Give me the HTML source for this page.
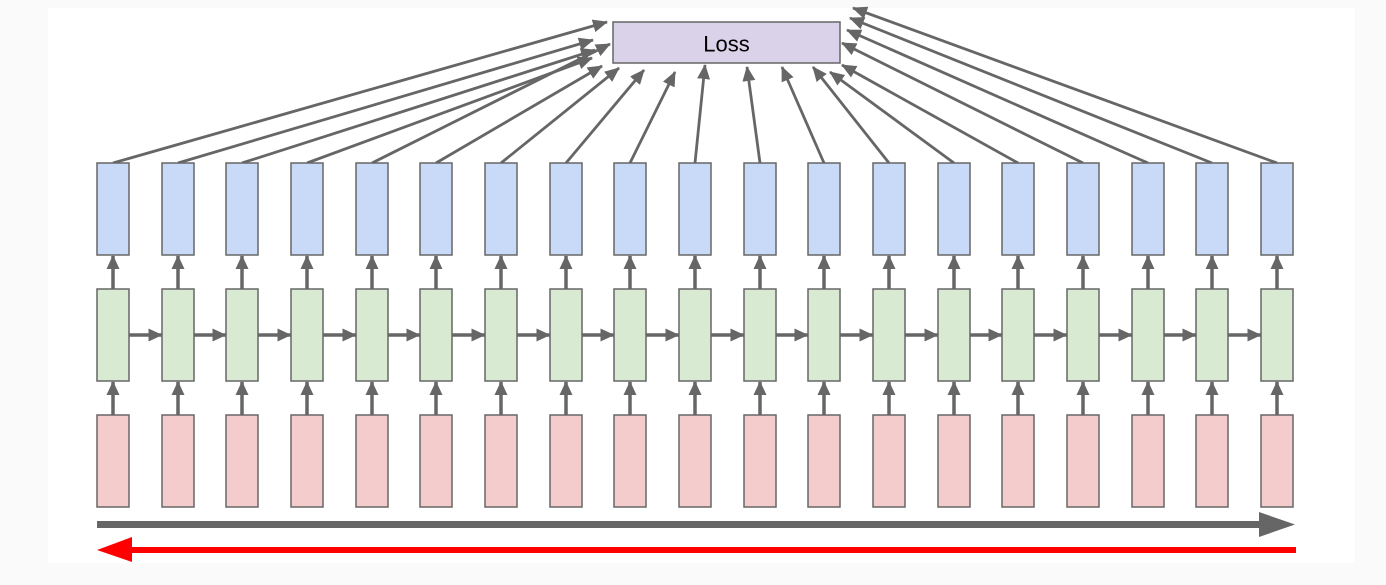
<!DOCTYPE html>
<html><head><meta charset="utf-8"><style>
html,body{margin:0;padding:0;background:#fafafa;}
svg{display:block;}
</style></head><body>
<svg width="1386" height="585" viewBox="0 0 1386 585" xmlns="http://www.w3.org/2000/svg">
<rect x="0" y="0" width="1386" height="585" fill="#fafafa"/>
<rect x="48" y="8" width="1307" height="555" fill="#ffffff"/>
<defs>
<marker id="ah" markerWidth="15" markerHeight="13" refX="14" refY="6.5" orient="auto" markerUnits="userSpaceOnUse">
<path d="M0,0 L15,6.5 L0,13 Z" fill="#666"/>
</marker>
<marker id="av" markerWidth="14" markerHeight="13" refX="13" refY="6.5" orient="auto" markerUnits="userSpaceOnUse">
<path d="M0,0 L14,6.5 L0,13 Z" fill="#666"/>
</marker>
</defs>
<g id="g"></g>
<rect x="613" y="22" width="227" height="41" fill="#d9d2e9" stroke="#666" stroke-width="1.5"/>
<text x="726.5" y="51.5" font-family="Liberation Sans, sans-serif" font-size="22" text-anchor="middle" fill="#000">Loss</text>
<line x1="97" y1="524.5" x2="1262" y2="524.5" stroke="#666" stroke-width="7"/>
<path d="M1259,512 L1295,524.5 L1259,537 Z" fill="#666"/>
<line x1="130" y1="550" x2="1296" y2="550" stroke="#ff0000" stroke-width="6"/>
<path d="M132,537 L97,550 L132,562 Z" fill="#ff0000"/>
<script>
var g=document.getElementById('g');var ns='http://www.w3.org/2000/svg';
function el(t,a){var e=document.createElementNS(ns,t);for(var k in a)e.setAttribute(k,a[k]);g.appendChild(e);return e;}
var tips=[[607,22],[593,40],[595,50],[592,58],[610,44],[602,66],[619,68],[644,70],[675,72],[705,65],[747,67],[782,67],[813,67],[830,72],[842,65],[842,43],[847,30],[850,18],[853,8]];
for(var i=0;i<19;i++){
 var x=Math.round(97+i*64.67), w=32, cx=x+w/2;
 el('line',{x1:cx,y1:163,x2:tips[i][0],y2:tips[i][1],stroke:'#666','stroke-width':2.8,'marker-end':'url(#ah)'});
 el('rect',{x:x,y:163,width:w,height:92,fill:'#c9daf8',stroke:'#666','stroke-width':1.5});
 el('rect',{x:x,y:289,width:w,height:92,fill:'#d9ead3',stroke:'#666','stroke-width':1.5});
 el('rect',{x:x,y:415,width:w,height:92,fill:'#f4cccc',stroke:'#666','stroke-width':1.5});
 el('line',{x1:cx,y1:289,x2:cx,y2:256,stroke:'#666','stroke-width':3.5,'marker-end':'url(#av)'});
 el('line',{x1:cx,y1:415,x2:cx,y2:382,stroke:'#666','stroke-width':3.5,'marker-end':'url(#av)'});
 if(i<18){var nx=Math.round(97+(i+1)*64.67);
 el('line',{x1:x+w,y1:335,x2:nx-0.5,y2:335,stroke:'#666','stroke-width':3.5,'marker-end':'url(#av)'});}
}
</script>
</svg>
</body></html>
